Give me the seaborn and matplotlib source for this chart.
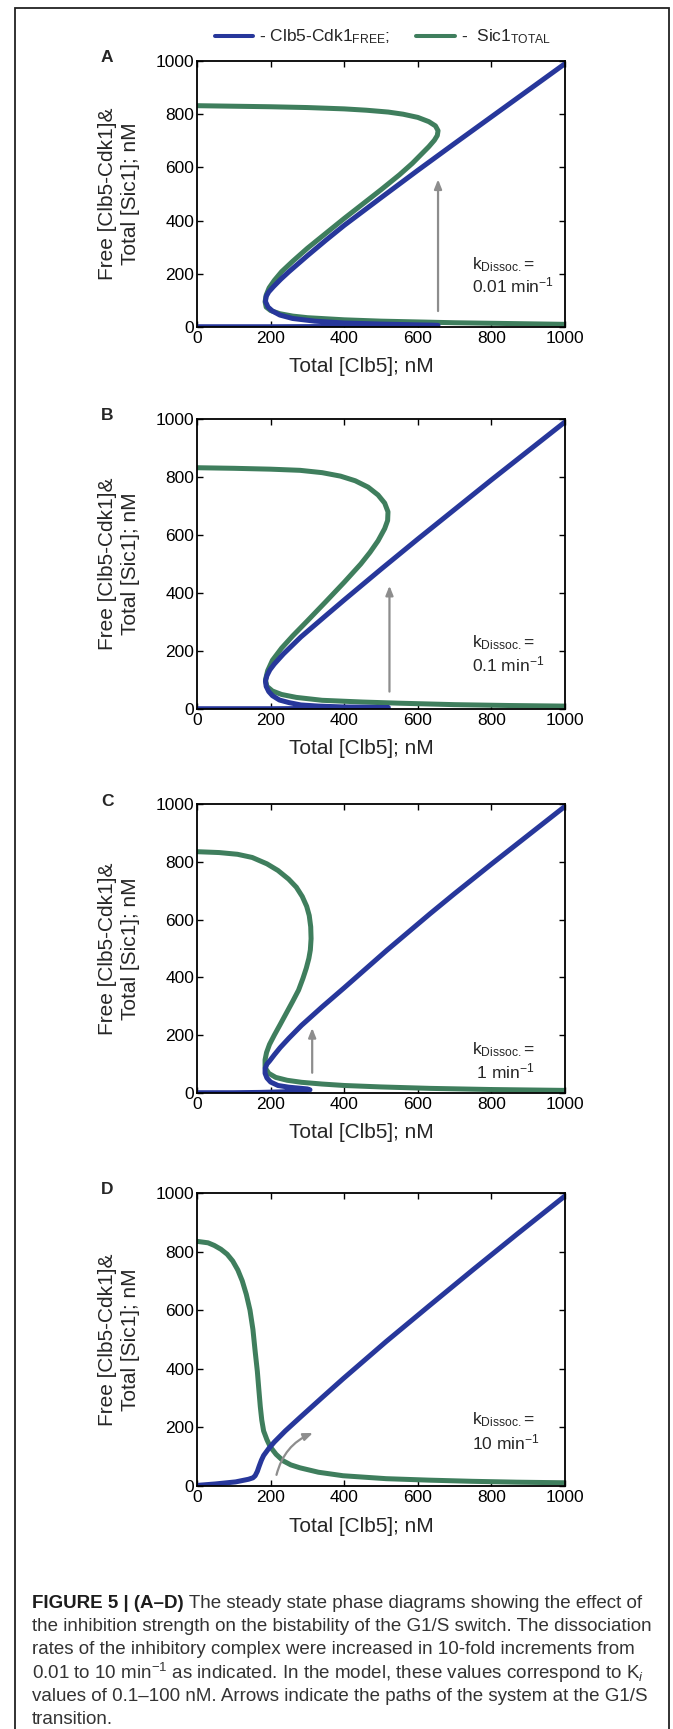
import matplotlib
matplotlib.use("Agg")
import matplotlib.pyplot as plt
import seaborn as sns
from matplotlib.lines import Line2D
from matplotlib.patches import Rectangle

# ---------------------------------------------------------------------------
# Steady-state curves (total Clb5 in nM on x), traced in path order
# ---------------------------------------------------------------------------
# Panel A, k_dissoc = 0.01 /min
A_sic1_clb5 = [0, 100, 200, 300, 400, 460, 520, 560, 600, 630, 648, 655, 653, 645, 630, 610, 585, 550,
               500, 450, 400, 350, 300, 260, 230, 210, 196, 188, 185, 188, 200, 225, 260, 300, 400, 500,
               600, 700, 800, 900, 1000]
A_sic1_total = [832, 830, 828, 825, 820, 815, 808, 800, 788, 772, 756, 738, 720, 702, 678, 650, 615, 572,
                516, 462, 408, 352, 296, 247, 208, 175, 147, 120, 95, 75, 62, 50, 41, 35, 27, 22,
                19, 16, 14, 12, 10]
A_cdk_clb5 = [0, 200, 400, 550, 620, 650, 655, 640, 600, 500, 400, 320, 260, 225, 205, 193, 186, 188,
              195, 208, 228, 250, 300, 350, 400, 500, 600, 700, 800, 900, 1000]
A_cdk_free = [1, 1, 2, 3, 4, 5, 6, 7, 8, 11, 15, 22, 32, 45, 60, 75, 96, 115,
              132, 152, 180, 208, 268, 326, 382, 486, 589, 690, 790, 890, 990]

# Panel B, k_dissoc = 0.1 /min
B_sic1_clb5 = [0, 100, 200, 280, 340, 390, 430, 465, 492, 510, 519, 518, 510, 492, 470, 445, 400, 350,
               300, 260, 230, 205, 192, 186, 190, 205, 230, 270, 340, 450, 550, 700, 850, 1000]
B_sic1_total = [832, 830, 827, 823, 815, 803, 787, 765, 738, 710, 680, 650, 622, 580, 540, 500, 437, 370,
                304, 252, 210, 168, 132, 100, 78, 62, 50, 40, 30, 24, 20, 15, 12, 10]
B_cdk_clb5 = [0, 200, 350, 450, 510, 520, 510, 470, 400, 330, 282, 250, 224, 205, 195, 188, 186, 190,
              198, 210, 235, 282, 350, 400, 500, 600, 700, 800, 900, 1000]
B_cdk_free = [1, 1, 2, 3, 4, 5, 5, 6, 7, 10, 14, 22, 31, 46, 60, 78, 96, 115,
              135, 155, 190, 248, 322, 376, 482, 586, 688, 790, 890, 990]

# Panel C, k_dissoc = 1 /min
C_sic1_clb5 = [0, 60, 110, 150, 190, 220, 249, 270, 286, 298, 305, 309, 310, 308, 304, 297, 288, 276,
               260, 243, 226, 210, 197, 189, 185, 185, 195, 214, 245, 284, 340, 400, 500, 633, 800, 1000]
C_sic1_total = [835, 832, 826, 815, 793, 770, 740, 712, 680, 646, 614, 575, 534, 495, 466, 432, 397, 356,
                317, 277, 237, 200, 168, 140, 115, 88, 68, 54, 44, 37, 31, 26, 21, 16, 12, 9]
C_cdk_clb5 = [0, 100, 170, 230, 270, 295, 307, 300, 284, 250, 220, 200, 190, 185, 185, 190, 198, 210,
              226, 250, 284, 340, 400, 516, 633, 700, 800, 900, 1000]
C_cdk_free = [1, 1, 2, 4, 6, 8, 11, 14, 16, 20, 26, 38, 52, 68, 84, 100, 112, 132,
              157, 190, 234, 298, 364, 494, 620, 690, 792, 892, 992]

# Panel D, k_dissoc = 10 /min
D_sic1_clb5 = [0, 30, 47, 65, 82, 97, 111, 123, 134, 144, 152, 158, 164, 168, 172, 176, 181, 190,
               199, 215, 234, 255, 280, 330, 397, 514, 630, 748, 870, 1000]
D_sic1_total = [835, 830, 821, 808, 791, 768, 737, 700, 654, 600, 534, 460, 391, 330, 271, 225, 188, 158,
                134, 108, 86, 72, 62, 47, 35, 25, 20, 16, 13, 11]
D_cdk_clb5 = [0, 50, 105, 140, 152, 158, 164, 169, 175, 181, 195, 210, 240, 280, 340, 397, 514, 631,
              750, 870, 1000]
D_cdk_free = [2, 7, 14, 23, 28, 35, 50, 68, 88, 104, 128, 150, 188, 234, 302, 366, 493, 615,
              738, 860, 990]

# Transition paths (tail, head) in data units
A_arrow = [(655, 60), (655, 555)]
B_arrow = [(523, 60), (523, 425)]
C_arrow = [(313, 70), (313, 225)]
D_arrow = [(216, 38), (315, 181)]

panel_letters = ["A", "B", "C", "D"]
rate_labels = ["0.01 min$^{-1}$", "0.1 min$^{-1}$", " 1 min$^{-1}$", "10 min$^{-1}$"]
axis_ticks = [0, 200, 400, 600, 800, 1000]

legend_labels = ["- Clb5-Cdk1$_{\\mathrm{FREE}}$;", "-  Sic1$_{\\mathrm{TOTAL}}$"]
x_label = "Total [Clb5]; nM"
y_label = "Free [Clb5-Cdk1]&\nTotal [Sic1]; nM"

caption_bold = "FIGURE 5 | (A\u2013D)"
caption_lines = [
    " The steady state phase diagrams showing the effect of",
    "the inhibition strength on the bistability of the G1/S switch. The dissociation",
    "rates of the inhibitory complex were increased in 10-fold increments from",
    "0.01 to 10 min$^{-1}$ as indicated. In the model, these values correspond to K$_{i}$",
    "values of 0.1\u2013100 nM. Arrows indicate the paths of the system at the G1/S",
    "transition.",
]

# ---------------------------------------------------------------------------
# Style
# ---------------------------------------------------------------------------
sns.set_style("ticks")
plt.rcParams["font.family"] = ["Liberation Sans", "DejaVu Sans"]
plt.rcParams["mathtext.fontset"] = "custom"
plt.rcParams["mathtext.rm"] = "Liberation Sans"
plt.rcParams["mathtext.it"] = "Liberation Sans:italic"
plt.rcParams["mathtext.bf"] = "Liberation Sans:bold"

BLUE = "#27379b"
GREEN = "#3f7e5d"
ARROW = "#8d8d8d"
LW = 3.6

W, H, DPI = 673, 1729, 100
fig = plt.figure(figsize=(W / DPI, H / DPI), dpi=DPI)
fig.patch.set_facecolor("white")


def add_axes_px(left, top, right, bottom):
    return fig.add_axes([left / W, 1 - bottom / H, (right - left) / W, (bottom - top) / H])


# pixel boxes (left, top, right, bottom)
boxes = [(197, 61, 565, 327), (197, 419, 565, 709), (197, 804, 565, 1093), (197, 1193, 565, 1486)]
sic1_x = [A_sic1_clb5, B_sic1_clb5, C_sic1_clb5, D_sic1_clb5]
sic1_y = [A_sic1_total, B_sic1_total, C_sic1_total, D_sic1_total]
cdk_x = [A_cdk_clb5, B_cdk_clb5, C_cdk_clb5, D_cdk_clb5]
cdk_y = [A_cdk_free, B_cdk_free, C_cdk_free, D_cdk_free]
arrows = [A_arrow, B_arrow, C_arrow, D_arrow]
# (x of line 1, y of line 1, x of line 2, y of line 2) in data units
rate_pos = [(748, 233, 748, 158), (748, 228, 748, 152), (748, 149, 748, 73), (748, 225, 748, 150)]

for i, box in enumerate(boxes):
    ax = add_axes_px(*box)
    sns.lineplot(x=sic1_x[i], y=sic1_y[i], sort=False, estimator=None, ax=ax, color=GREEN,
                 linewidth=LW, solid_capstyle="round", solid_joinstyle="round", legend=False)
    sns.lineplot(x=cdk_x[i], y=cdk_y[i], sort=False, estimator=None, ax=ax, color=BLUE,
                 linewidth=LW, solid_capstyle="round", solid_joinstyle="round", legend=False)
    ax.set_xlim(0, 1000)
    ax.set_ylim(0, 1000)
    ax.set_xticks(axis_ticks)
    ax.set_yticks(axis_ticks)
    ax.tick_params(direction="in", length=4, width=1.0, top=True, right=True,
                   labelsize=12.5, colors="black")
    ax.tick_params(axis="x", pad=3)
    ax.tick_params(axis="y", pad=2)
    for sp in ax.spines.values():
        sp.set_visible(True)
        sp.set_linewidth(1.3)
        sp.set_color("black")

    height = box[3] - box[1]
    width = box[2] - box[0]
    ax.set_xlabel(x_label, fontsize=15)
    ax.xaxis.set_label_coords((361 - box[0]) / width, -40 / height)
    ax.xaxis.label.set_va("center")
    ax.set_ylabel(y_label, fontsize=15, linespacing=1.3, ha="center", va="center")
    ax.yaxis.set_label_coords((119 - box[0]) / width, 0.5)

    # transition path
    (x0, y0), (x1, y1) = arrows[i]
    rad = -0.25 if i == 3 else 0.0
    ax.annotate("", xy=(x1, y1), xytext=(x0, y0),
                arrowprops=dict(arrowstyle="-|>,head_length=0.55,head_width=0.22", color=ARROW,
                                lw=1.6, shrinkA=0, shrinkB=0,
                                connectionstyle=f"arc3,rad={rad}"))

    tx, ty, tx2, ty2 = rate_pos[i]
    ax.text(tx, ty, "k$_{\\mathrm{Dissoc.}}$=", fontsize=12.5, ha="left", va="center")
    ax.text(tx2, ty2, rate_labels[i], fontsize=12.5, ha="left", va="center")

    fig.text(107 / W, 1 - (box[1] - 3) / H, panel_letters[i], fontsize=12.5, fontweight="bold",
             ha="center", va="center")

# legend across the top
handles = [Line2D([0], [0], color=BLUE, lw=2.9), Line2D([0], [0], color=GREEN, lw=2.9)]
fig.legend(handles, legend_labels, loc="center", bbox_to_anchor=(383 / W, 1 - 37 / H),
           ncol=2, frameon=False, fontsize=12.5, handlelength=2.2, handletextpad=0.35,
           columnspacing=1.5)

# caption
cap_left = 32 / W
cap_y0 = 1603
cap_dy = 23.4
renderer = fig.canvas.get_renderer()
bold = fig.text(cap_left, 1 - cap_y0 / H, caption_bold, fontsize=13.5, fontweight="bold",
                ha="left", va="center", color="#1c1c1c")
bb = bold.get_window_extent(renderer=renderer)
fig.text(bb.x1 / W, 1 - cap_y0 / H, caption_lines[0], fontsize=13.5, ha="left", va="center",
         color="#333333")
for k, line in enumerate(caption_lines[1:], start=1):
    fig.text(cap_left, 1 - (cap_y0 + k * cap_dy) / H, line, fontsize=13.5, ha="left",
             va="center", color="#333333")

# figure frame
fig.add_artist(Rectangle((15 / W, -0.01), (669 - 15) / W, 1.01 - 8.5 / H, transform=fig.transFigure,
                         fill=False, lw=1.3, edgecolor="#222222"))

fig.savefig("out.png", dpi=DPI, facecolor="white")
